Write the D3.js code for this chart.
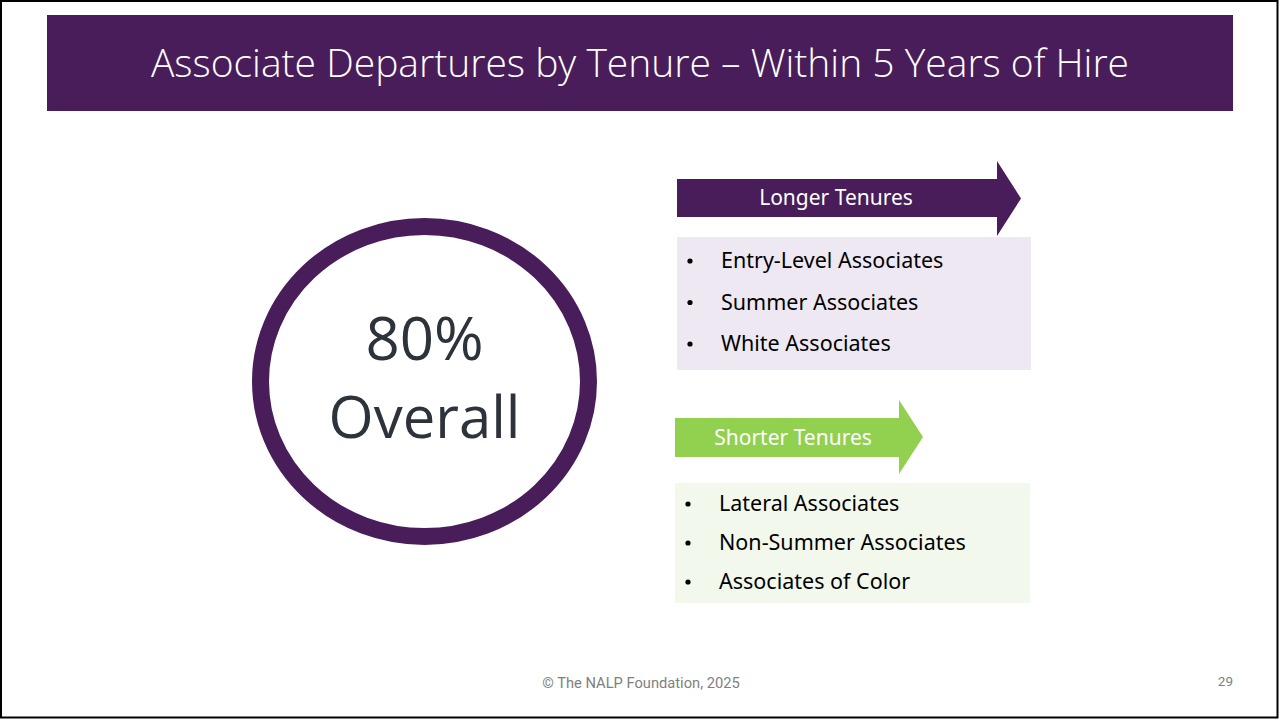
<!DOCTYPE html>
<html>
<head>
<meta charset="utf-8">
<script src="https://cdn.jsdelivr.net/npm/d3@7"></script>
<style>
  html, body { margin: 0; padding: 0; background: #fff; }
  svg { display: block; }
</style>
</head>
<body>
<svg id="chart" width="1279" height="719"></svg>
<script>
// ---- Data ----
const titleText = "Associate Departures by Tenure \u2013 Within 5 Years of Hire";
const overallValue = 80;
const overallLabel = "Overall";
const groupNames = ["Longer Tenures", "Shorter Tenures"];
const longerItems = ["Entry-Level Associates", "Summer Associates", "White Associates"];
const shorterItems = ["Lateral Associates", "Non-Summer Associates", "Associates of Color"];
const footerText = "\u00A9 The NALP Foundation, 2025";
const pageNumber = "29";

// ---- Styles ----
const purple = "#481D5A";
const green = "#92D050";
const lightPurple = "#EEE8F3";
const lightGreen = "#F2F8EC";
const darkText = "#2D333B";

const svg = d3.select("#chart");
const W = 1279, H = 719;

// slide border
svg.append("rect").attr("x", 1).attr("y", 1).attr("width", W - 2.5).attr("height", H - 2.5)
  .attr("fill", "#fff").attr("stroke", "#000").attr("stroke-width", 2);

// title banner
svg.append("rect").attr("x", 47).attr("y", 15).attr("width", 1186).attr("height", 96).attr("fill", purple);
svg.append("text").attr("x", 640).attr("y", 77).attr("text-anchor", "middle")
  .attr("font-family", "'Open Sans', sans-serif").attr("font-weight", 300)
  .attr("font-size", 39).attr("fill", "#fff").text(titleText);

// overall ring
const cx = 424.5, cy = 381.5;
svg.append("ellipse").attr("cx", cx).attr("cy", cy).attr("rx", 164).attr("ry", 155)
  .attr("fill", "#fff").attr("stroke", purple).attr("stroke-width", 17);
const pct = d3.format(".0%");
svg.append("text").attr("x", cx).attr("y", 360).attr("text-anchor", "middle")
  .attr("font-family", "'Open Sans', sans-serif").attr("font-size", 60).attr("fill", darkText)
  .text(pct(overallValue / 100));
svg.append("text").attr("x", cx).attr("y", 438).attr("text-anchor", "middle")
  .attr("font-family", "'Open Sans', sans-serif").attr("font-size", 58).attr("fill", darkText)
  .text(overallLabel);

// groups
const groups = [
  { name: groupNames[0], items: longerItems, color: purple, bg: lightPurple,
    arrow: { x: 677, y: 179, w: 320, h: 38, headW: 24, headTop: 161, headBot: 236 }, labelX: 836,
    box: { x: 677, y: 237, w: 354, h: 133 }, bulletX: 688, textX: 721, rows: [268, 351] },
  { name: groupNames[1], items: shorterItems, color: green, bg: lightGreen,
    arrow: { x: 675, y: 418, w: 224, h: 39, headW: 24, headTop: 400, headBot: 474 }, labelX: 793,
    box: { x: 675, y: 483, w: 355, h: 120 }, bulletX: 686, textX: 719, rows: [511, 589] }
];

groups.forEach(g => {
  const a = g.arrow;
  const midY = (a.headTop + a.headBot) / 2;
  const p = d3.path();
  p.moveTo(a.x, a.y);
  p.lineTo(a.x + a.w, a.y);
  p.lineTo(a.x + a.w, a.headTop);
  p.lineTo(a.x + a.w + a.headW, midY);
  p.lineTo(a.x + a.w, a.headBot);
  p.lineTo(a.x + a.w, a.y + a.h);
  p.lineTo(a.x, a.y + a.h);
  p.closePath();
  svg.append("path").attr("d", p.toString()).attr("fill", g.color);
  svg.append("text").attr("x", g.labelX).attr("y", a.y + a.h / 2 + 7)
    .attr("text-anchor", "middle").attr("font-family", "'Noto Sans', sans-serif")
    .attr("font-size", 21).attr("fill", "#fff").text(g.name);

  const b = g.box;
  svg.append("rect").attr("x", b.x).attr("y", b.y).attr("width", b.w).attr("height", b.h).attr("fill", g.bg);

  const yScale = d3.scalePoint().domain(d3.range(g.items.length)).range(g.rows);
  const rows = svg.append("g").selectAll("g").data(g.items).join("g")
    .attr("transform", (d, i) => `translate(0,${yScale(i)})`);
  rows.append("circle").attr("cx", g.bulletX + 2).attr("cy", -7).attr("r", 2.6).attr("fill", "#000");
  rows.append("text").attr("x", g.textX).attr("y", 0)
    .attr("font-family", "'Noto Sans', sans-serif").attr("font-size", 21.5).attr("fill", "#000")
    .text(d => d);
});

// footer
svg.append("text").attr("x", 641).attr("y", 688).attr("text-anchor", "middle")
  .attr("font-family", "'Roboto', sans-serif").attr("font-size", 14.7)
  .attr("fill", "#808080").text(footerText);
svg.append("text").attr("x", 1233).attr("y", 686).attr("text-anchor", "end")
  .attr("font-family", "'Roboto', sans-serif").attr("font-size", 13.5)
  .attr("fill", "#808080").text(pageNumber);
</script>
</body>
</html>
